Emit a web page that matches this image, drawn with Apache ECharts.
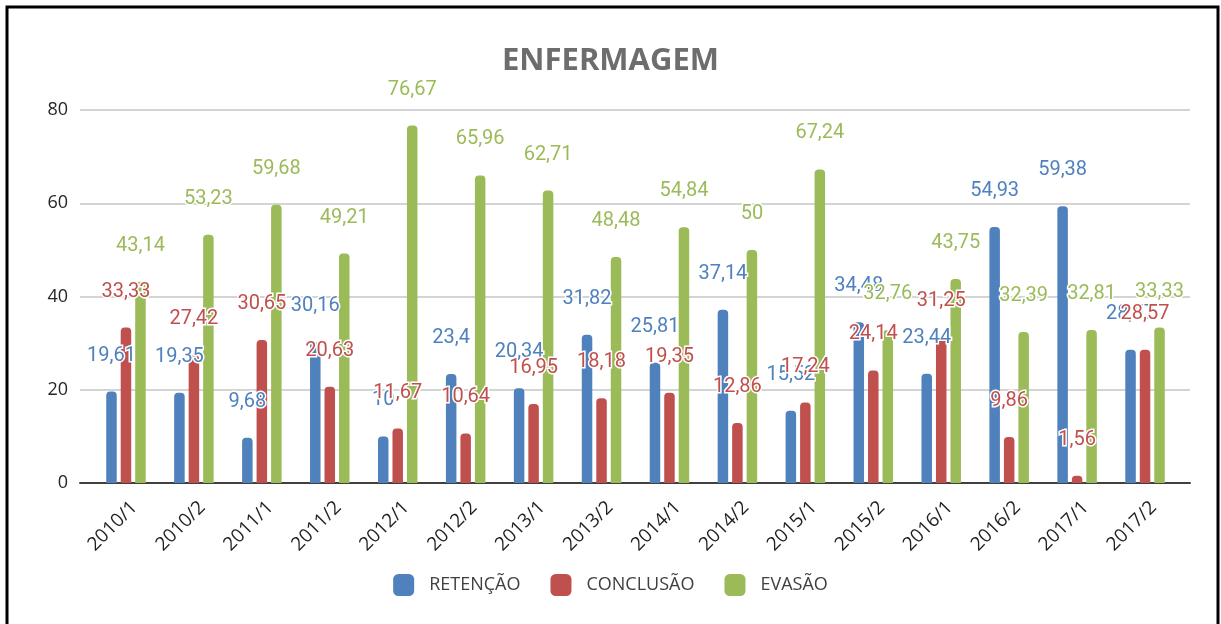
<!DOCTYPE html>
<html>
<head>
<meta charset="utf-8">
<script src="https://cdn.jsdelivr.net/npm/echarts@6/dist/echarts.min.js"></script>
<style>
    html, body { margin: 0; padding: 0; background: #fff; }
    #main { width: 1221px; height: 624px; }
</style>
</head>
<body>
<div id="main"></div>
<script>
var semestres = ['2010/1', '2010/2', '2011/1', '2011/2', '2012/1', '2012/2', '2013/1', '2013/2',
    '2014/1', '2014/2', '2015/1', '2015/2', '2016/1', '2016/2', '2017/1', '2017/2'];
var retencao = [19.61, 19.35, 9.68, 30.16, 10, 23.4, 20.34, 31.82, 25.81, 37.14, 15.52, 34.48, 23.44, 54.93, 59.38, 28.57];
var conclusao = [33.33, 27.42, 30.65, 20.63, 11.67, 10.64, 16.95, 18.18, 19.35, 12.86, 17.24, 24.14, 31.25, 9.86, 1.56, 28.57];
var evasao = [43.14, 53.23, 59.68, 49.21, 76.67, 65.96, 62.71, 48.48, 54.84, 50, 67.24, 32.76, 43.75, 32.39, 32.81, 33.33];
var yTicks = [0, 20, 40, 60, 80];

function makeSerie(name, data, color) {
    return {
        name: name,
        type: 'bar',
        xAxisIndex: 1,
        yAxisIndex: 1,
        data: data,
        barWidth: 10.5,
        barGap: '38%',
        itemStyle: {
            color: color,
            borderRadius: [4, 4, 0, 0]
        },
        label: {
            show: true,
            position: 'top',
            distance: 26,
            color: color,
            fontFamily: 'Roboto',
            fontSize: 20,
            textBorderColor: '#fff',
            textBorderWidth: 3,
            formatter: function (p) {
                return String(p.value).replace('.', ',');
            }
        }
    };
}

var myChart = echarts.init(document.getElementById('main'));
myChart.setOption({
    animation: false,
    title: {
        text: 'ENFERMAGEM',
        left: 'center',
        top: 41,
        textStyle: {
            fontFamily: 'Open Sans',
            fontWeight: 'bold',
            fontSize: 31,
            color: '#6d6d6d'
        }
    },
    legend: {
        bottom: 23,
        left: 'center',
        itemWidth: 21,
        itemHeight: 22,
        itemGap: 30,
        icon: 'roundRect',
        data: ['RETENÇÃO', 'CONCLUSÃO', 'EVASÃO'],
        textStyle: {
            fontFamily: 'Open Sans',
            fontSize: 18,
            color: '#404040',
            padding: [0, 0, 0, 10]
        }
    },
    graphic: [{
        type: 'rect',
        shape: { x: 7, y: 7, width: 1211, height: 700 },
        style: { fill: 'none', stroke: '#000', lineWidth: 3 },
        silent: true
    }],
    grid: [
        { left: 80, right: 31, top: 110, bottom: 141 },
        { left: 92, right: 42, top: 110, bottom: 141 }
    ],
    xAxis: [
        {
            type: 'value',
            gridIndex: 0,
            min: 0,
            max: 1,
            axisLine: { show: true, lineStyle: { color: '#404040', width: 2 } },
            axisTick: { show: false },
            axisLabel: { show: false },
            splitLine: { show: false }
        },
        {
            type: 'category',
            gridIndex: 1,
            data: semestres,
            axisLine: { show: false },
            axisTick: { show: false },
            axisLabel: {
                interval: 0,
                rotate: 45,
                margin: 13,
                verticalAlign: 'top',
                lineHeight: 24,
                fontFamily: 'Open Sans',
                fontSize: 19,
                color: '#1f1f1f'
            }
        }
    ],
    yAxis: [
        {
            type: 'value',
            gridIndex: 0,
            min: yTicks[0],
            max: yTicks[yTicks.length - 1],
            interval: 20,
            axisLine: { show: false },
            axisTick: { show: false },
            axisLabel: {
                margin: 12,
                fontFamily: 'Open Sans',
                fontSize: 18,
                color: '#262626'
            },
            splitLine: { lineStyle: { color: '#d4d4d4', width: 2 } }
        },
        {
            type: 'value',
            gridIndex: 1,
            min: yTicks[0],
            max: yTicks[yTicks.length - 1],
            interval: 20,
            show: false,
            splitLine: { show: false }
        }
    ],
    series: [
        makeSerie('RETENÇÃO', retencao, '#4f81bd'),
        makeSerie('CONCLUSÃO', conclusao, '#c0504d'),
        makeSerie('EVASÃO', evasao, '#9bbb59')
    ]
});
</script>
</body>
</html>
